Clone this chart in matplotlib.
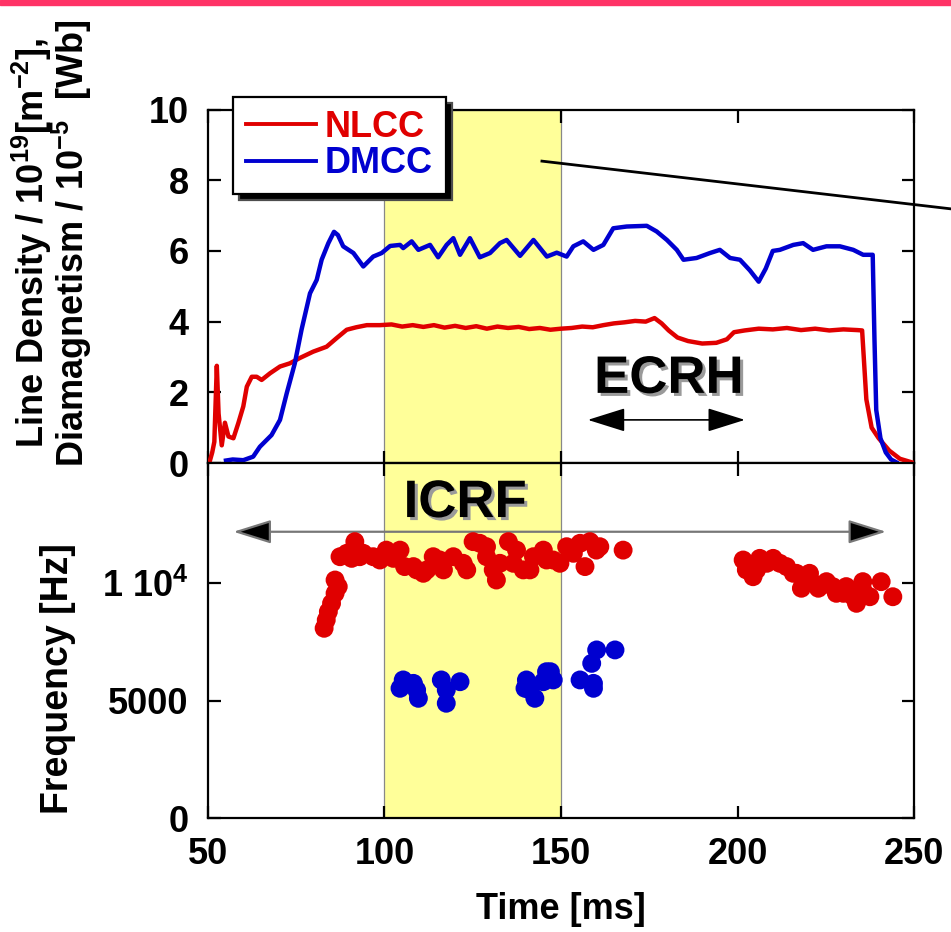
#!/usr/bin/env python3
"""Line density / diamagnetism traces and fluctuation frequency vs time."""

import matplotlib

matplotlib.use("Agg")
import matplotlib.pyplot as plt
import matplotlib.patheffects as pe
from matplotlib.patches import Rectangle, Shadow

# top panel: NLCC line density (1e19 m^-2), DMCC diamagnetism (1e-5 Wb)
nlcc_t = [50.0, 50.5, 51.2, 51.8, 52.5, 53.0, 53.9, 54.8, 55.8, 57.2, 58.6, 60.0,
          61.0, 62.4, 63.8, 65.2, 67.6, 70.4, 73.2, 76.0, 79.8, 83.6, 86.4, 89.3,
          92.0, 95.0, 98.7, 102, 105, 108, 111, 114, 117, 120, 123, 126, 129, 132,
          135, 138, 141, 144, 147, 150, 153, 156, 159, 162, 165, 168, 171, 174,
          176.5, 178.5, 180.5, 183, 186, 190, 194, 197, 199, 202, 206, 210, 214,
          218, 222, 226, 230, 234, 235.3, 236.5, 238, 240, 243, 246, 249, 250]
nlcc_v = [0.0, 0.05, 0.3, 0.6, 2.75, 1.4, 0.5, 1.14, 0.75, 0.7, 1.13, 1.6,
          2.16, 2.44, 2.44, 2.35, 2.54, 2.73, 2.82, 2.97, 3.15, 3.29, 3.53, 3.77,
          3.84, 3.9, 3.9, 3.92, 3.86, 3.9, 3.85, 3.9, 3.83, 3.88, 3.82, 3.87, 3.8, 3.86,
          3.82, 3.85, 3.79, 3.82, 3.77, 3.8, 3.82, 3.86, 3.84, 3.9, 3.95, 3.98, 4.02, 4.0,
          4.1, 3.95, 3.75, 3.55, 3.45, 3.38, 3.4, 3.5, 3.7, 3.75, 3.8, 3.78, 3.82,
          3.76, 3.8, 3.75, 3.78, 3.76, 3.75, 1.8, 1.0, 0.7, 0.35, 0.12, 0.03, 0.0]

dmcc_t = [55.1, 57.0, 60.0, 62.8, 64.7, 68.0, 70.4, 72.3, 74.6, 76.5, 78.9, 80.8,
          82.2, 84.1, 85.7, 86.8, 88.3, 91.2, 94.0, 96.8, 99.2, 101.6, 104.4, 105.3,
          107.7, 109.6, 112.9, 115.2, 117.6, 119.5, 121.4, 124.2, 127.0, 129.9, 132.7,
          134.6, 138.4, 142.2, 146.0, 148.8, 151.6, 153.5, 156.3, 159.2, 162.0, 164.8,
          168.6, 174.3, 177.1, 180.0, 182.8, 184.7, 188.4, 192.2, 195.0, 197.9, 200.7,
          203.5, 206.0, 208.0, 210.0, 212.0, 215.8, 218.6, 221.4, 225.2, 229.0, 232.8,
          235.6, 238.3, 238.8, 239.3, 240.5, 242.0, 243.5, 245.0]
dmcc_v = [0.07, 0.1, 0.08, 0.18, 0.46, 0.79, 1.22, 1.97, 2.82, 3.77, 4.8, 5.18,
          5.75, 6.22, 6.54, 6.45, 6.13, 5.94, 5.56, 5.84, 5.94, 6.14, 6.17, 6.08,
          6.27, 6.03, 6.17, 5.82, 6.17, 6.36, 5.89, 6.36, 5.82, 5.94, 6.22,
          6.31, 5.86, 6.31, 5.84, 5.95, 5.84, 6.13, 6.27, 6.03, 6.17, 6.64,
          6.69, 6.71, 6.55, 6.31, 6.03, 5.75, 5.8, 5.94, 6.03, 5.8, 5.75,
          5.45, 5.13, 5.5, 6.0, 6.03, 6.17, 6.22, 6.03, 6.13, 6.13, 6.03,
          5.89, 5.89, 3.5, 1.5, 0.7, 0.3, 0.1, 0.02]

# bottom panel: mode frequencies (Hz)
red_t = [82.9, 83.5, 84.1, 85.0, 86.0, 86.9, 86.0, 87.4, 89.3, 90.7, 91.6, 93.0,
         94.0, 96.8, 98.7, 100.5, 102.5, 104.4, 105.7, 108.2, 109.1, 111.0, 112.0,
         113.8, 115.7, 116.7, 119.5, 122.3, 123.3, 125.1, 127.0, 128.9, 128.9,
         130.8, 131.7, 132.7, 135.1, 136.5, 137.4, 139.3, 141.2, 142.2, 145.0,
         145.9, 147.8, 149.7, 151.6, 153.5, 155.4, 156.8, 158.2, 160.0, 161.0,
         167.6, 201.6, 202.5, 202.6, 204.4, 205.4, 206.3, 208.3, 210.1, 212.0,
         213.9, 215.8, 216.7, 218.1, 220.4, 221.4, 222.9, 225.2, 227.0, 228.0,
         230.0, 230.8, 232.8, 233.7, 235.5, 235.5, 237.5, 240.7, 244.0]
red_f = [8080, 8430, 8785, 9140, 9565, 9850, 10130, 11120, 11265, 11050, 11760, 11120,
         11265, 11120, 10980, 11400, 11050, 11400, 10700, 10700, 10560, 10415, 10560,
         11120, 10980, 10560, 11120, 10840, 10560, 11760, 11690, 11120, 11545,
         10560, 10130, 10840, 11760, 10840, 11400, 10560, 10560, 11120, 11400,
         10980, 10980, 10840, 11545, 11265, 11690, 10700, 11760, 11400, 11545,
         11400, 10980, 10560, 10770, 10270, 10560, 11050, 10840, 11050, 10840,
         10700, 10415, 10415, 9780, 10415, 9990, 9780, 10060, 9850, 9565,
         9565, 9850, 9420, 9140, 10060, 9710, 9420, 10060, 9420]

blue_t = [104.4, 105.3, 108.2, 109.1, 109.6, 116.1, 117.5, 117.5, 121.4, 139.8,
          140.2, 141.2, 142.6, 145.0, 145.9, 147.0, 147.8, 155.4, 159.2, 159.2,
          158.7, 160.1, 165.3]
blue_f = [5530, 5885, 5740, 5460, 5105, 5885, 5460, 4895, 5810, 5530,
          5885, 5460, 5105, 5810, 6235, 6235, 5885, 5885, 5530, 5740,
          6590, 7160, 7160]

x_ticks = [50, 100, 150, 200, 250]
top_ticks = [0, 2, 4, 6, 8, 10]
bottom_ticks = [0, 5000, 10000]
bottom_tick_labels = ["0", "5000", "1 10$^{4}$"]

icrf_span = (100, 150)

RED = "#e00000"
BLUE = "#0000d0"
FONT = "Liberation Sans"

plt.rcParams.update({
    "font.family": FONT,
    "font.weight": "bold",
    "axes.labelweight": "bold",
    "mathtext.fontset": "custom",
    "mathtext.rm": f"{FONT}:bold",
    "mathtext.it": f"{FONT}:bold",
    "mathtext.bf": f"{FONT}:bold",
    "mathtext.default": "rm",
    "axes.linewidth": 1.6,
})


def style_axis(ax):
    ax.tick_params(which="both", direction="in", top=True, right=True,
                   length=9, width=1.6, labelsize=26)
    ax.tick_params(axis="y", pad=14)
    ax.tick_params(axis="x", pad=13)
    ax.set_xlim(50, 250)
    ax.set_xticks(x_ticks)
    ax.axvspan(*icrf_span, facecolor="#ffff99", edgecolor="#888888", lw=0.9, zorder=0)


def main():
    fig = plt.figure(figsize=(9.51, 9.32), dpi=100)
    fig.patches.append(Rectangle((0, 1 - 5 / 932), 1, 5 / 932, transform=fig.transFigure,
                                 color="#ff3366", zorder=10))

    ax1 = fig.add_axes([0.2187, 0.5032, 0.7424, 0.3793])
    ax2 = fig.add_axes([0.2187, 0.1218, 0.7424, 0.3814])

    style_axis(ax1)
    ax1.plot(nlcc_t, nlcc_v, color=RED, lw=3.2, label="NLCC", zorder=3)
    ax1.plot(dmcc_t, dmcc_v, color=BLUE, lw=3.2, label="DMCC", zorder=3)
    ax1.set_ylim(0, 10)
    ax1.set_yticks(top_ticks)
    ax1.tick_params(axis="x", labelbottom=False)

    leg = ax1.legend(loc="upper left", bbox_to_anchor=(0.0354, 1.0354), borderaxespad=0,
                     fancybox=False, framealpha=1, edgecolor="black",
                     prop={"family": FONT, "weight": "bold", "size": 26},
                     handlelength=1.95, handletextpad=0.25, borderpad=0.35,
                     labelspacing=0.05)
    leg.get_frame().set_linewidth(1.6)
    for line in leg.get_lines():
        line.set_linewidth(2.8)
    for text, col in zip(leg.get_texts(), [RED, BLUE]):
        text.set_color(col)

    shadow_fx = [pe.withSimplePatchShadow(offset=(2.2, -2.2), shadow_rgbFace="#9a9a9a", alpha=1)]
    ax1.text(180.5, 2.38, "ECRH", fontsize=38, ha="center", va="center",
             path_effects=shadow_fx, zorder=6)
    ax1.annotate("", xy=(157.6, 1.22), xytext=(202.1, 1.22),
                 arrowprops=dict(arrowstyle="<|-|>,head_length=1.18,head_width=0.37",
                                 mutation_scale=20, fc="black", ec="black", lw=1.2,
                                 shrinkA=0, shrinkB=0))
    ax1.plot([144.6, 275.0], [8.54, 7.02], color="black", lw=2.0, clip_on=False, zorder=4)

    style_axis(ax2)
    ax2.scatter(red_t, red_f, s=185, color=RED, edgecolors="none", zorder=3)
    ax2.scatter(blue_t, blue_f, s=185, color=BLUE, edgecolors="none", zorder=3)
    ax2.set_ylim(0, 15100)
    ax2.set_yticks(bottom_ticks)
    ax2.set_yticklabels(bottom_tick_labels)
    ax2.text(122.8, 13400, "ICRF", fontsize=38, ha="center", va="center",
             path_effects=shadow_fx, zorder=6)
    ax2.annotate("", xy=(57.2, 12180), xytext=(242.1, 12180),
                 arrowprops=dict(arrowstyle="<|-|>,head_length=1.18,head_width=0.37",
                                 mutation_scale=20, fc="black", ec="#777777", lw=1.6,
                                 shrinkA=0, shrinkB=0), zorder=2.5)
    ax2.set_xlabel("Time [ms]", fontsize=26, fontweight="bold", labelpad=15)

    fig.text(52 / 951, 1 - 243 / 932,
             "Line Density / 10$^{19}$[m$^{-2}$],\nDiamagnetism / 10$^{-5}$  [Wb]",
             rotation=90, ha="center", va="center", multialignment="center",
             fontsize=26, linespacing=0.9)
    fig.text(58 / 951, 1 - 679 / 932, "Frequency [Hz]", rotation=90,
             ha="center", va="center", fontsize=27)

    fig.canvas.draw()
    shadow = Shadow(leg.legendPatch, 4.5, -4.5, facecolor="black", alpha=1, zorder=4.9)
    shadow.set_clip_on(False)
    ax1.add_artist(shadow)

    fig.savefig("out.png", dpi=100)
    return 0


if __name__ == "__main__":
    raise SystemExit(main())
